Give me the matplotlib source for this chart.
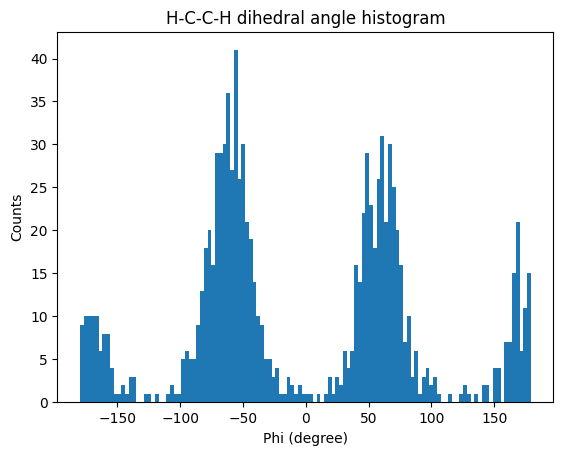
import numpy as np
import matplotlib
matplotlib.use("Agg")
import matplotlib.pyplot as plt

# histogram of H-C-C-H dihedral angles, 120 bins between min and max angle
phi_min = -179.8
phi_max = 179.1
n_bins = 120

counts = [
    9, 10, 10, 10, 10, 6, 8, 8, 4, 1,
    1, 2, 1, 3, 3, 0, 0, 1, 1, 0,
    1, 0, 0, 1, 2, 1, 1, 5, 6, 5,
    5, 9, 13, 18, 20, 16, 29, 29, 30, 36,
    27, 41, 26, 30, 21, 19, 14, 10, 9, 5,
    5, 3, 4, 1, 1, 3, 2, 1, 2, 1,
    1, 1, 0, 1, 0, 1, 3, 1, 3, 2,
    6, 4, 6, 16, 14, 22, 29, 23, 18, 26,
    31, 21, 30, 25, 20, 16, 7, 10, 3, 6,
    1, 3, 4, 2, 3, 1, 0, 0, 1, 0,
    0, 1, 2, 1, 0, 1, 0, 2, 2, 0,
    4, 4, 0, 7, 7, 15, 21, 6, 11, 15,
]

edges = np.linspace(phi_min, phi_max, n_bins + 1)
centers = 0.5 * (edges[:-1] + edges[1:])

fig = plt.figure(figsize=(5.62, 4.55), dpi=100)
ax = fig.add_axes([0.102, 0.1158, 0.8826, 0.8132])

ax.hist(centers, bins=edges, weights=counts, color="#1f77b4")

ax.set_title("H-C-C-H dihedral angle histogram")
ax.set_xlabel("Phi (degree)")
ax.set_ylabel("Counts")

fig.savefig("out.png", dpi=100)
